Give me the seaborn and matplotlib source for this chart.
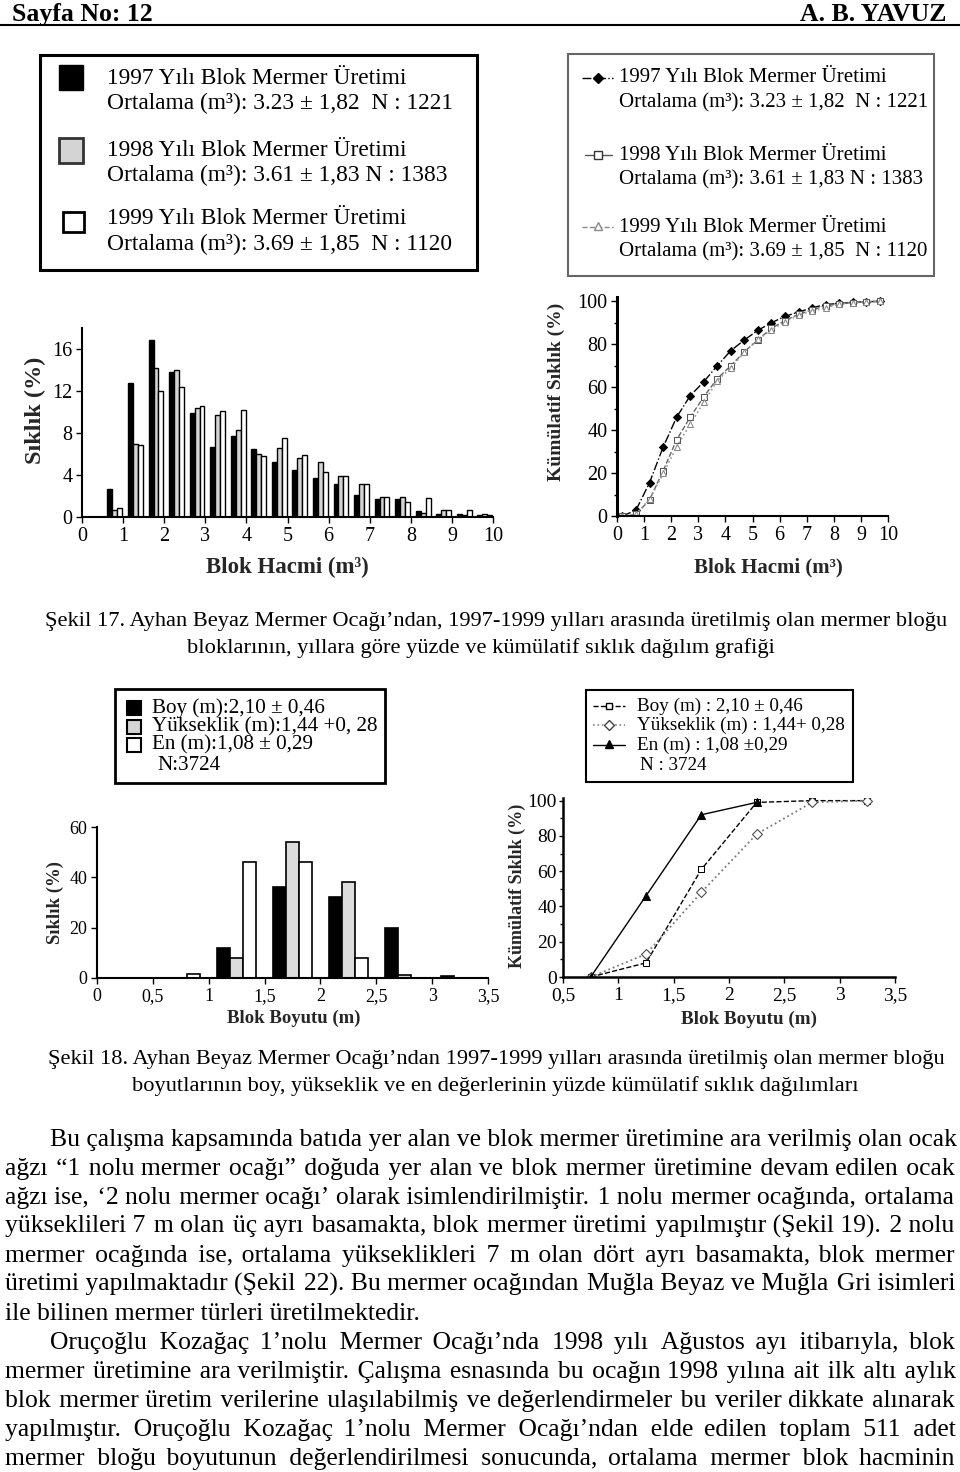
import numpy as np
import pandas as pd
import matplotlib
matplotlib.use("Agg")
import matplotlib.pyplot as plt
import seaborn as sns
from matplotlib.patches import Rectangle

# ---------------- data ----------------
hacim_x = [0.8, 1.3, 1.8, 2.3, 2.8, 3.3, 3.8, 4.3, 4.8, 5.3, 5.8, 6.3, 6.8, 7.3, 7.8, 8.3, 8.8, 9.3, 9.8]
sik_1997 = [2.7, 12.8, 16.9, 13.8, 9.9, 6.7, 7.7, 6.5, 5.2, 4.5, 3.7, 3.1, 2.1, 1.7, 1.7, 0.6, 0.3, 0.3, 0.2]
sik_1998 = [0.7, 7.0, 14.2, 14.0, 10.4, 9.7, 8.3, 6.0, 6.6, 5.6, 5.2, 3.9, 3.1, 1.9, 1.9, 0.4, 0.7, 0.2, 0.3]
sik_1999 = [0.9, 6.9, 12.0, 12.4, 10.6, 10.1, 10.2, 5.8, 7.5, 5.9, 4.3, 3.9, 3.1, 1.9, 1.4, 1.8, 0.7, 0.7, 0.2]
yillar = ["1997", "1998", "1999"]

kum_x = [0.2, 0.7, 1.2, 1.7, 2.2, 2.7, 3.2, 3.7, 4.2, 4.7, 5.2, 5.7, 6.2, 6.7, 7.2, 7.7, 8.2, 8.7, 9.2, 9.7]
kum_1997 = [0, 2.7, 15.5, 32.0, 46.0, 56.0, 62.5, 70.0, 77.0, 82.0, 86.5, 90.0, 93.0, 95.0, 97.0, 98.5, 99.0, 99.5, 99.8, 100]
kum_1998 = [0, 0.7, 7.5, 21.0, 35.5, 46.0, 55.5, 64.0, 70.0, 76.5, 82.0, 87.5, 91.0, 94.0, 96.0, 98.0, 98.8, 99.4, 99.7, 100]
kum_1999 = [0, 0.9, 7.8, 19.8, 32.2, 42.8, 52.9, 63.1, 68.9, 76.4, 82.3, 86.6, 90.5, 93.6, 95.5, 96.9, 98.7, 99.4, 99.8, 100]

boyut_x = [0.75, 1.25, 1.75, 2.25, 2.75, 3.25]
sik_boy = [0, 12, 36, 32, 20, 0.8]
sik_yuk = [0, 8, 54, 38, 1.3, 0]
sik_en = [1.5, 46, 46, 8, 0, 0]
boyutlar = ["Boy", "Yükseklik", "En"]

kum_boy_x = [0.75, 1.25, 1.75, 2.25, 2.75, 3.25]
kum_boy = [0, 8, 61, 99, 100, 100]
kum_yuk_x = [0.75, 1.25, 1.75, 2.25, 2.75, 3.25]
kum_yuk = [0, 13, 48, 81, 99, 100]
kum_en_x = [0.75, 1.25, 1.75, 2.25]
kum_en = [0, 46, 92, 99]

body_lines = [
    "Bu çalışma kapsamında batıda yer alan ve blok mermer üretimine ara verilmiş olan ocak",
    "ağzı “1 nolu mermer ocağı” doğuda yer alan ve blok mermer üretimine devam edilen ocak",
    "ağzı ise, ‘2 nolu mermer ocağı’ olarak isimlendirilmiştir. 1 nolu mermer ocağında, ortalama",
    "yükseklileri 7 m olan üç ayrı basamakta, blok mermer üretimi yapılmıştır (Şekil 19). 2 nolu",
    "mermer ocağında ise, ortalama yükseklikleri 7 m olan dört ayrı basamakta, blok mermer",
    "üretimi yapılmaktadır (Şekil 22). Bu mermer ocağından Muğla Beyaz ve Muğla Gri isimleri",
    "ile bilinen mermer türleri üretilmektedir.",
    "Oruçoğlu Kozağaç 1’nolu Mermer Ocağı’nda 1998 yılı Ağustos ayı itibarıyla, blok",
    "mermer üretimine ara verilmiştir. Çalışma esnasında bu ocağın 1998 yılına ait ilk altı aylık",
    "blok mermer üretim verilerine ulaşılabilmiş ve değerlendirmeler bu veriler dikkate alınarak",
    "yapılmıştır. Oruçoğlu Kozağaç 1’nolu Mermer Ocağı’ndan elde edilen toplam 511 adet",
    "mermer bloğu boyutunun değerlendirilmesi sonucunda, ortalama mermer blok hacminin",
]
body_indent = [True, False, False, False, False, False, False, True, False, False, False, False]
body_last = [False, False, False, False, False, False, True, False, False, False, False, False]

# ---------------- style ----------------
sns.set_theme(style="ticks")
plt.rcParams["font.family"] = ["Liberation Serif", "DejaVu Serif"]
plt.rcParams["axes.edgecolor"] = "black"
plt.rcParams["xtick.color"] = "black"
plt.rcParams["ytick.color"] = "black"
plt.rcParams["text.color"] = "black"

W, H = 960, 1472
fig = plt.figure(figsize=(W / 100, H / 100), dpi=100)
bg = fig.add_axes([0, 0, 1, 1])
bg.set_xlim(0, W)
bg.set_ylim(H, 0)
bg.axis("off")
renderer = fig.canvas.get_renderer()


def twidth(s, size, weight="normal"):
    t = bg.text(0, 0, s, fontsize=size, fontweight=weight)
    w = t.get_window_extent(renderer).width
    t.remove()
    return w


def fit_size(s, target, weight="normal"):
    return 12.0 * target / twidth(s, 12.0, weight)


def space_w(c, size):
    return twidth("x" + c + "x", size) - twidth("xx", size)


def justify(line, x0, x1, yb, size, last=False):
    """Justify a line by composing each gap of normal and hair spaces
    so the whole line stays one text (one baseline)."""
    if last:
        bg.text(x0, yb, line, fontsize=size, va="baseline", ha="left")
        return
    words = line.split(" ")
    ws = [twidth(w, size) for w in words]
    w_sp = space_w(" ", size)
    fine = "\u200a"
    w_f = space_w(fine, size)
    if w_f < 0.4:
        fine = "\u2009"
        w_f = space_w(fine, size)
    gap = (x1 - x0 - sum(ws)) / (len(words) - 1)
    out = words[0]
    cum_target = 0.0
    cum = 0.0
    for w in words[1:]:
        cum_target += gap
        rem = cum_target - cum
        n1 = max(1, int(rem // w_sp))
        rem2 = rem - n1 * w_sp
        n2 = max(0, int(round(rem2 / w_f)))
        out += " " * n1 + fine * n2 + w
        cum += n1 * w_sp + n2 * w_f
    bg.text(x0, yb, out, fontsize=size, va="baseline", ha="left")


def ax_at(l, t, r, b):
    a = fig.add_axes([l / W, 1 - b / H, (r - l) / W, (b - t) / H])
    a.set_facecolor("none")
    return a


def style(ax, lw=1.5, lsize=13):
    sns.despine(ax=ax)
    for s in ["left", "bottom"]:
        ax.spines[s].set_linewidth(lw)
        ax.spines[s].set_color("black")
    ax.tick_params(direction="out", length=4, width=1, labelsize=lsize, pad=3)
    ax.grid(False)


def labels(ax, box, xl, yl, xpos, ypos, xs, ys):
    l, t, r, b = box
    ax.set_xlabel(xl, fontsize=xs, fontweight="bold")
    ax.set_ylabel(yl, fontsize=ys, fontweight="bold")
    ax.xaxis.set_label_coords((xpos[0] - l) / (r - l), (b - xpos[1]) / (b - t))
    ax.yaxis.set_label_coords((ypos[0] - l) / (r - l), (b - ypos[1]) / (b - t))
    ax.xaxis.label.set_va("center")
    ax.yaxis.label.set_va("center")


# ---------------- header ----------------
bg.text(12, 21, "Sayfa No: 12", fontsize=18.5, fontweight="bold", va="baseline")
bg.text(946, 21, "A. B. YAVUZ", fontsize=18.5, fontweight="bold", va="baseline", ha="right")
bg.plot([0, W], [25, 25], color="black", lw=1.5)

# ---------------- legend boxes Şekil 17 ----------------
bg.add_patch(Rectangle((40, 55), 437, 215, fill=False, ec="black", lw=2.2))
bg.add_patch(Rectangle((59, 65), 24, 25, fc="black", ec="black", lw=1))
bg.add_patch(Rectangle((59, 138), 24, 25, fc="#d4d4d4", ec="#333333", lw=2))
bg.add_patch(Rectangle((63, 212), 21, 20, fc="white", ec="black", lw=2))
leg1 = [("1997 Yılı Blok Mermer Üretimi", 78), ("Ortalama (m³): 3.23 ± 1,82  N : 1221", 103),
        ("1998 Yılı Blok Mermer Üretimi", 150), ("Ortalama (m³): 3.61 ± 1,83 N : 1383", 175),
        ("1999 Yılı Blok Mermer Üretimi", 219), ("Ortalama (m³): 3.69 ± 1,85  N : 1120", 244)]
for s, y in leg1:
    bg.text(107, y, s, fontsize=16.8, va="center")

bg.add_patch(Rectangle((568, 54), 366, 222, fill=False, ec="#666666", lw=1.5))
bg.plot([582, 613], [78, 78], color="black", ls="-.", lw=1)
bg.plot([598], [78], marker="D", ms=5, color="black")
bg.plot([585, 612], [155, 155], color="#555555", ls="-", lw=1)
bg.plot([598], [155], marker="s", ms=6, mfc="white", mec="#333333")
bg.plot([582, 613], [227, 227], color="#888888", ls="--", lw=1)
bg.plot([598], [226], marker="^", ms=6, mfc="white", mec="#888888")
leg2 = [("1997 Yılı Blok Mermer Üretimi", 78), ("Ortalama (m³): 3.23 ± 1,82  N : 1221", 103),
        ("1998 Yılı Blok Mermer Üretimi", 155), ("Ortalama (m³): 3.61 ± 1,83 N : 1383", 180),
        ("1999 Yılı Blok Mermer Üretimi", 227), ("Ortalama (m³): 3.69 ± 1,85  N : 1120", 252)]
for s, y in leg2:
    bg.text(619, y, s, fontsize=15, va="center")

# ---------------- Chart 1: histogram ----------------
b1 = (82, 328, 493, 517)
ax1 = ax_at(*b1)
df1 = pd.DataFrame({
    "x": hacim_x * 3,
    "v": sik_1997 + sik_1998 + sik_1999,
    "yil": [yillar[0]] * len(hacim_x) + [yillar[1]] * len(hacim_x) + [yillar[2]] * len(hacim_x),
})
sns.barplot(data=df1, x="x", y="v", hue="yil", native_scale=True,
            palette=["black", "#d4d4d4", "white"], edgecolor="black", linewidth=1.0,
            width=0.72, errorbar=None, legend=False, ax=ax1)
ax1.set_xlim(0, 10)
ax1.set_ylim(0, 18)
ax1.set_xticks(range(11))
ax1.set_xticklabels([str(i) for i in range(11)])
ax1.set_yticks([0, 4, 8, 12, 16])
style(ax1, lw=1.5, lsize=14.5)
labels(ax1, b1, "Blok Hacmi (m³)", "Sıklık (%)", (287, 567), (35, 410), 16.5, 17.5)

# ---------------- Chart 2: cumulative ----------------
b2 = (617, 297, 888, 516)
ax2 = ax_at(*b2)
sns.lineplot(x=kum_x, y=kum_1997, ax=ax2, color="black", linestyle="-.", lw=1,
             marker="D", markersize=4, markerfacecolor="black", markeredgecolor="black")
sns.lineplot(x=kum_x, y=kum_1998, ax=ax2, color="#666666", linestyle="--", lw=1,
             marker="s", markersize=4.5, markerfacecolor="white", markeredgecolor="#555555")
sns.lineplot(x=kum_x, y=kum_1999, ax=ax2, color="#999999", linestyle=":", lw=1.2,
             marker="^", markersize=4.5, markerfacecolor="white", markeredgecolor="#888888")
ax2.set_xlim(0, 10)
ax2.set_ylim(0, 102)
ax2.set_xticks(range(11))
ax2.set_yticks([0, 20, 40, 60, 80, 100])
ax2.set_yticks(range(10, 100, 20), minor=True)
style(ax2, lw=2.2, lsize=14.5)
ax2.spines["bottom"].set_linewidth(1.5)
ax2.tick_params(which="minor", direction="out", length=2.5, width=1)
labels(ax2, b2, "Blok Hacmi (m³)", "Kümülatif Sıklık (%)", (768, 567), (556, 392), 15, 14)

# ---------------- Caption Şekil 17 ----------------
cap17a = "Şekil 17. Ayhan Beyaz Mermer Ocağı’ndan, 1997-1999 yılları arasında üretilmiş olan mermer bloğu"
cap17b = "bloklarının, yıllara göre yüzde ve kümülatif sıklık dağılım grafiği"
cap_size = fit_size(cap17a, 897)
bg.text(496, 626, cap17a, fontsize=cap_size, ha="center", va="baseline")
bg.text(481, 653, cap17b, fontsize=cap_size, ha="center", va="baseline")

# ---------------- legend boxes Şekil 18 ----------------
bg.add_patch(Rectangle((115, 689), 270, 94, fill=False, ec="black", lw=2))
bg.add_patch(Rectangle((127, 701), 14, 14, fc="black", ec="black", lw=1.5))
bg.add_patch(Rectangle((127, 720), 14, 14, fc="#d4d4d4", ec="black", lw=1.5))
bg.add_patch(Rectangle((127, 738), 14, 14, fc="white", ec="black", lw=1.5))
leg3 = [("Boy (m):2,10 ± 0,46", 152, 708), ("Yükseklik (m):1,44 +0, 28", 152, 727),
        ("En (m):1,08 ± 0,29", 152, 745), ("N:3724", 157, 765)]
for s, x, y in leg3:
    bg.text(x, y, s, fontsize=15.2, va="center")

bg.add_patch(Rectangle((586, 690), 267, 92, fill=False, ec="black", lw=1.5))
bg.plot([593, 625], [706, 706], color="black", ls="--", lw=1)
bg.plot([609], [706], marker="s", ms=5, mfc="white", mec="black")
bg.plot([593, 625], [725, 725], color="#888888", ls=":", lw=1.2)
bg.plot([609], [725], marker="D", ms=5, mfc="white", mec="#444444")
bg.plot([593, 625], [745, 745], color="black", ls="-", lw=1)
bg.plot([609], [744], marker="^", ms=5.5, color="black")
leg4 = [("Boy (m) : 2,10 ± 0,46", 637, 706), ("Yükseklik (m) : 1,44+ 0,28", 637, 725),
        ("En (m) : 1,08 ±0,29", 637, 745), ("N : 3724", 640, 765)]
for s, x, y in leg4:
    bg.text(x, y, s, fontsize=13.8, va="center")

# ---------------- Chart 3: size histogram ----------------
b3 = (97, 827, 488, 978)
ax3 = ax_at(*b3)
df3 = pd.DataFrame({
    "x": boyut_x * 3,
    "v": sik_boy + sik_yuk + sik_en,
    "tip": [boyutlar[0]] * 6 + [boyutlar[1]] * 6 + [boyutlar[2]] * 6,
})
sns.barplot(data=df3, x="x", y="v", hue="tip", native_scale=True,
            palette=["black", "#dcdcdc", "white"], edgecolor="black", linewidth=1.2,
            width=0.7, errorbar=None, legend=False, ax=ax3)
ax3.set_xlim(0, 3.5)
ax3.set_ylim(0, 60)
xt = [0, 0.5, 1, 1.5, 2, 2.5, 3, 3.5]
ax3.set_xticks(xt)
ax3.set_xticklabels(["0", "0,5", "1", "1,5", "2", "2,5", "3", "3,5"])
ax3.set_yticks([0, 20, 40, 60])
style(ax3, lw=1.5, lsize=13)
labels(ax3, b3, "Blok Boyutu (m)", "Sıklık (%)", (294, 1018), (55, 903), 13.5, 13.5)

# ---------------- Chart 4: size cumulative ----------------
b4 = (563, 798, 895, 977)
ax4 = ax_at(*b4)
sns.lineplot(x=kum_boy_x, y=kum_boy, ax=ax4, color="black", linestyle="--", lw=1,
             marker="s", markersize=5, markerfacecolor="white", markeredgecolor="black")
sns.lineplot(x=kum_yuk_x, y=kum_yuk, ax=ax4, color="#7a7a7a", linestyle=":", lw=1.3,
             marker="D", markersize=5, markerfacecolor="white", markeredgecolor="#444444")
sns.lineplot(x=kum_en_x, y=kum_en, ax=ax4, color="black", linestyle="-", lw=1,
             marker="^", markersize=5.5, markerfacecolor="black", markeredgecolor="black")
ax4.set_xlim(0.5, 3.5)
ax4.set_ylim(0, 101.5)
ax4.set_xticks(xt[1:])
ax4.set_xticklabels(["0,5", "1", "1,5", "2", "2,5", "3", "3,5"])
ax4.set_yticks([0, 20, 40, 60, 80, 100])
ax4.set_yticks(range(10, 100, 20), minor=True)
style(ax4, lw=1.8, lsize=14)
ax4.tick_params(axis="y", which="major", length=3, pad=1.5)
ax4.tick_params(which="minor", direction="out", length=2.5, width=1)
labels(ax4, b4, "Blok Boyutu (m)", "Kümülatif Sıklık (%)", (749, 1019), (517, 886), 13.8, 13)

# ---------------- Caption Şekil 18 ----------------
bg.text(496, 1064, "Şekil 18. Ayhan Beyaz Mermer Ocağı’ndan 1997-1999 yılları arasında üretilmiş olan mermer bloğu",
        fontsize=cap_size, ha="center", va="baseline")
bg.text(495, 1091, "boyutlarının boy, yükseklik ve en değerlerinin yüzde kümülatif sıklık dağılımları",
        fontsize=cap_size, ha="center", va="baseline")

# ---------------- body text ----------------
body_size = 99.0
for i, line in enumerate(body_lines):
    if body_last[i]:
        continue
    x0 = 50 if body_indent[i] else 5
    body_size = min(body_size, fit_size(line, 955 - x0))

y0 = 1146
for i, line in enumerate(body_lines):
    x0 = 50 if body_indent[i] else 5
    justify(line, x0, 955, y0 + 29 * i, body_size, last=body_last[i])

fig.savefig("out.png", dpi=100)
